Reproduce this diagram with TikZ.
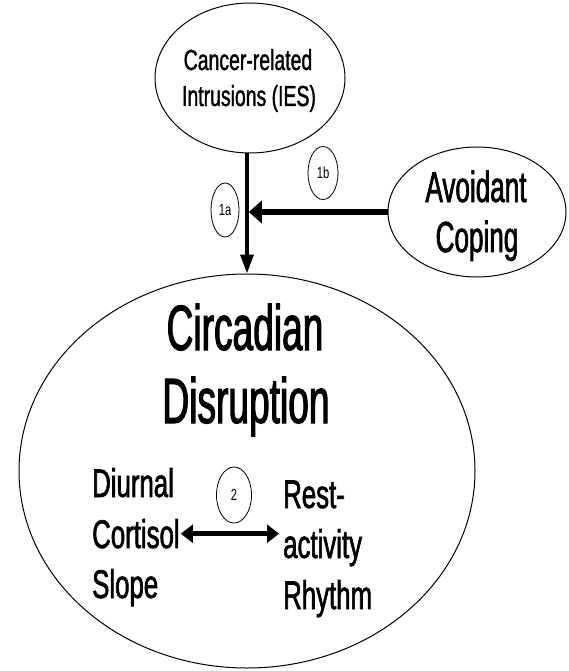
\documentclass[tikz,border=0pt]{standalone}
\usepackage{fontspec}
\setmainfont{Liberation Sans}
% condensed cuts of the sans face, one per text size
\newfontfamily\cfTop[FakeStretch=0.67,FakeBold=1.2]{Liberation Sans}
\newfontfamily\cfAvoid[FakeStretch=0.60,FakeBold=1.5]{Liberation Sans}
\newfontfamily\cfBig[FakeStretch=0.58,FakeBold=1.6]{Liberation Sans}
\newfontfamily\cfInner[FakeStretch=0.645,FakeBold=1.5]{Liberation Sans}
\newfontfamily\cfLab[FakeStretch=0.70]{Liberation Sans}
\usetikzlibrary{shapes.geometric,arrows.meta}

\begin{document}
\begin{tikzpicture}[x=1pt,y=-1pt,
  bubble/.style={ellipse,draw,line width=1pt,inner sep=0pt},
  txt/.style={anchor=base,inner sep=0pt},
  ltxt/.style={anchor=base west,inner sep=0pt},
  toptext/.style={font=\cfTop\fontsize{29}{36}\selectfont},
  avoidtext/.style={font=\cfAvoid\fontsize{43.5}{50}\selectfont},
  bigtext/.style={font=\cfBig\fontsize{64}{73}\selectfont},
  innertext/.style={font=\cfInner\fontsize{40}{50}\selectfont},
  tag/.style={ellipse,draw,line width=0.8pt,inner sep=0pt,
    font=\cfLab\fontsize{16}{16}\selectfont}
]
\useasboundingbox (0,0) rectangle (569,671);

% source: intrusive thoughts
\node[bubble,minimum width=190pt,minimum height=150pt] (top) at (250,78) {};
\node[txt,toptext] (t1) at (248,70) {Cancer-related};
\node[txt,toptext] (t2) at (249,106) {Intrusions (IES)};

% moderator: avoidant coping
\node[bubble,minimum width=178pt,minimum height=130pt] (avoid) at (477,212) {};
\node[txt,avoidtext] (a1) at (476,202) {Avoidant};
\node[txt,avoidtext] (a2) at (477,252) {Coping};

% outcome: circadian disruption
\node[bubble,minimum width=456pt,minimum height=394pt] (big) at (247,471) {};
\node[txt,bigtext] (c1) at (245,350) {Circadian};
\node[txt,bigtext] (c2) at (246,423) {Disruption};

% the two circadian measures
\node[ltxt,innertext] (d1) at (92,497) {Diurnal};
\node[ltxt,innertext] (cort) at (92,548) {Cortisol};
\node[ltxt,innertext] (d3) at (92,598) {Slope};
\node[ltxt,innertext] (r1) at (283,508) {Rest-};
\node[ltxt,innertext] (act) at (283,558) {activity};
\node[ltxt,innertext] (r3) at (283,609) {Rhythm};

% path labels
\node[tag,minimum width=28pt,minimum height=54pt] (p1a) at (225,210) {1a};
\node[tag,minimum width=30pt,minimum height=53pt] (p1b) at (323,173) {1b};
\node[tag,minimum width=35pt,minimum height=56pt] (p2) at (234,495) {2};

% path 1a: intrusions -> circadian disruption
\draw[line width=3.5pt,-{Triangle[length=19pt,width=13pt]}]
  (top.south -| big.north) -- (big.north);

% path 1b: avoidant coping moderates 1a
\coordinate (join) at (avoid.west -| big.north);
\draw[line width=6.5pt,-{Triangle[length=13pt,width=22pt]},shorten >=1.75pt]
  (avoid.west) -- (join);

% path 2: association between the two measures
\draw[line width=4.5pt,
  {Triangle[length=12pt,width=18pt]}-{Triangle[length=12pt,width=18pt]},
  shorten <=1pt,shorten >=4pt]
  (cort.east) -- (cort.east -| act.west);
\end{tikzpicture}
\end{document}
